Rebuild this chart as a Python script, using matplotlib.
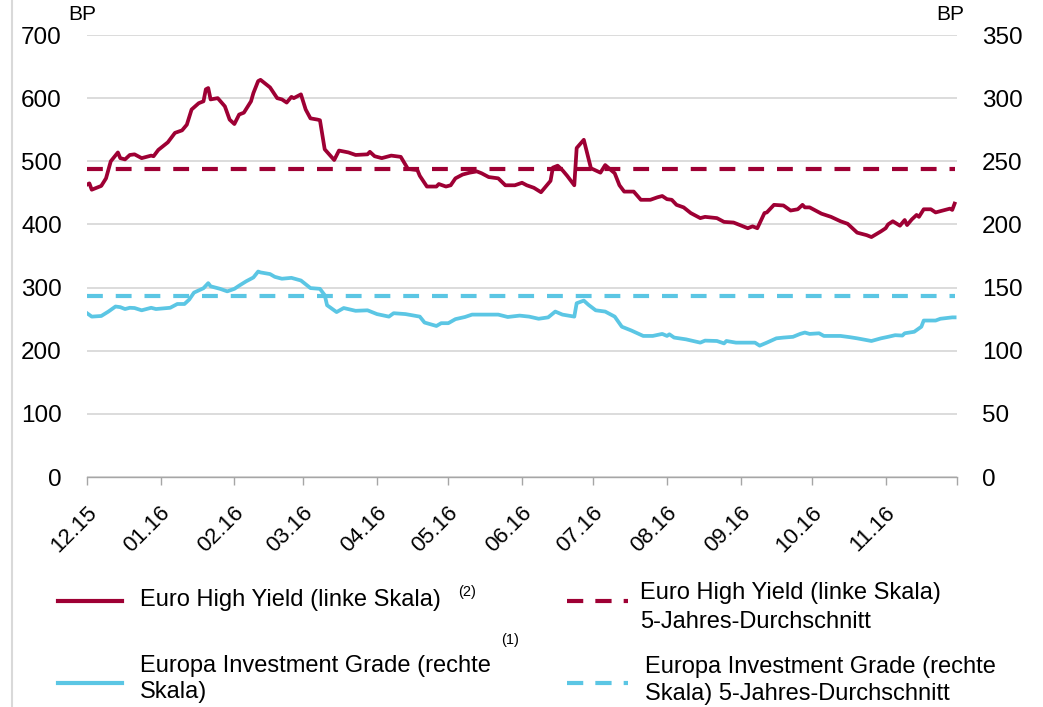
import matplotlib
matplotlib.use('Agg')
import matplotlib.pyplot as plt
import matplotlib.transforms as mtransforms
from matplotlib.lines import Line2D
import pandas as pd

# ---------------- data ----------------
hy_dates = ['2015-12-01', '2015-12-02', '2015-12-03', '2015-12-07', '2015-12-09', '2015-12-11', '2015-12-14',
            '2015-12-15', '2015-12-17', '2015-12-19', '2015-12-21', '2015-12-24', '2015-12-28', '2015-12-29',
            '2015-12-31',
            '2016-01-04', '2016-01-07', '2016-01-10', '2016-01-12', '2016-01-14', '2016-01-17', '2016-01-19',
            '2016-01-20', '2016-01-21', '2016-01-22', '2016-01-25', '2016-01-28', '2016-01-30',
            '2016-02-01', '2016-02-03', '2016-02-05', '2016-02-08', '2016-02-09', '2016-02-11', '2016-02-12',
            '2016-02-16', '2016-02-19', '2016-02-21', '2016-02-23', '2016-02-25', '2016-02-26', '2016-02-29',
            '2016-03-02', '2016-03-04', '2016-03-07', '2016-03-08', '2016-03-10', '2016-03-14', '2016-03-16',
            '2016-03-20', '2016-03-23', '2016-03-28', '2016-03-29', '2016-03-31',
            '2016-04-03', '2016-04-07', '2016-04-11', '2016-04-14', '2016-04-18', '2016-04-19', '2016-04-22',
            '2016-04-26', '2016-04-27', '2016-04-30',
            '2016-05-02', '2016-05-04', '2016-05-07', '2016-05-10', '2016-05-13', '2016-05-15', '2016-05-18',
            '2016-05-22', '2016-05-25', '2016-05-29',
            '2016-06-01', '2016-06-03', '2016-06-06', '2016-06-09', '2016-06-13', '2016-06-14', '2016-06-16',
            '2016-06-18', '2016-06-20', '2016-06-23', '2016-06-24', '2016-06-27', '2016-06-30',
            '2016-07-04', '2016-07-06', '2016-07-10', '2016-07-12', '2016-07-14', '2016-07-18', '2016-07-21',
            '2016-07-25', '2016-07-28', '2016-07-30',
            '2016-08-01', '2016-08-03', '2016-08-05', '2016-08-08', '2016-08-11', '2016-08-15', '2016-08-17',
            '2016-08-22', '2016-08-25', '2016-08-29', '2016-08-31',
            '2016-09-04', '2016-09-06', '2016-09-08', '2016-09-11', '2016-09-12', '2016-09-15', '2016-09-19',
            '2016-09-22', '2016-09-25', '2016-09-27', '2016-09-28', '2016-09-30',
            '2016-10-05', '2016-10-09', '2016-10-13', '2016-10-16', '2016-10-20', '2016-10-24', '2016-10-26',
            '2016-10-30',
            '2016-11-01', '2016-11-02', '2016-11-04', '2016-11-07', '2016-11-09', '2016-11-10', '2016-11-12',
            '2016-11-14', '2016-11-15', '2016-11-17', '2016-11-20', '2016-11-22', '2016-11-25', '2016-11-28',
            '2016-11-29', '2016-11-30']
hy_values = [463, 465, 455, 461, 473, 500, 514, 505, 503, 510, 511, 505, 509, 508, 518,
             530, 545, 549, 558, 582, 592, 595, 614, 616, 598, 600, 587, 566,
             559, 574, 577, 595, 608, 627, 629, 617, 600, 598, 593, 602, 600, 606,
             582, 568, 566, 565, 519, 502, 517, 514, 510, 511, 515, 508,
             505, 509, 507, 488, 486, 477, 460, 460, 464, 460,
             462, 473, 479, 482, 484, 481, 475, 473, 462, 462,
             466, 462, 458, 451, 469, 490, 493, 486, 477, 462, 521, 534, 489,
             482, 494, 481, 462, 452, 452, 439, 439, 443, 445,
             440, 439, 431, 427, 418, 410, 412, 410, 404, 403, 400,
             394, 397, 394, 418, 419, 431, 430, 422, 424, 431, 427, 427,
             417, 412, 405, 401, 387, 383, 380, 389,
             394, 400, 405, 398, 407, 399, 408, 415, 412, 424, 424, 419, 422, 425, 423, 433]

ig_dates = ['2015-12-01', '2015-12-03', '2015-12-07', '2015-12-10', '2015-12-13', '2015-12-15', '2015-12-17',
            '2015-12-19', '2015-12-21', '2015-12-24', '2015-12-28', '2015-12-30',
            '2016-01-05', '2016-01-08', '2016-01-11', '2016-01-13', '2016-01-15', '2016-01-19', '2016-01-21',
            '2016-01-22', '2016-01-26', '2016-01-29',
            '2016-02-01', '2016-02-03', '2016-02-06', '2016-02-09', '2016-02-11', '2016-02-12', '2016-02-16',
            '2016-02-18', '2016-02-21', '2016-02-25', '2016-02-29',
            '2016-03-04', '2016-03-08', '2016-03-10', '2016-03-11', '2016-03-15', '2016-03-18', '2016-03-23',
            '2016-03-28',
            '2016-04-01', '2016-04-06', '2016-04-08', '2016-04-13', '2016-04-19', '2016-04-21', '2016-04-26',
            '2016-04-28',
            '2016-05-01', '2016-05-04', '2016-05-08', '2016-05-11', '2016-05-16', '2016-05-22', '2016-05-26',
            '2016-05-31',
            '2016-06-04', '2016-06-08', '2016-06-12', '2016-06-15', '2016-06-18', '2016-06-23', '2016-06-24',
            '2016-06-27', '2016-06-29',
            '2016-07-02', '2016-07-06', '2016-07-10', '2016-07-13', '2016-07-17', '2016-07-22', '2016-07-26',
            '2016-07-30',
            '2016-08-01', '2016-08-02', '2016-08-04', '2016-08-09', '2016-08-15', '2016-08-17', '2016-08-22',
            '2016-08-25', '2016-08-26', '2016-08-30',
            '2016-09-07', '2016-09-09', '2016-09-12', '2016-09-16', '2016-09-19', '2016-09-23', '2016-09-26',
            '2016-09-28', '2016-09-30',
            '2016-10-04', '2016-10-06', '2016-10-13', '2016-10-17', '2016-10-20', '2016-10-26', '2016-10-30',
            '2016-11-02', '2016-11-05', '2016-11-08', '2016-11-09', '2016-11-13', '2016-11-16', '2016-11-17',
            '2016-11-22', '2016-11-24', '2016-11-29', '2016-11-30']
ig_values = [129.7, 127, 127.5, 131, 135, 134.5, 133, 134, 133.8, 132, 134, 133,
             134, 137, 137, 140.5, 146, 149.5, 153.5, 151, 149, 147,
             149, 151.5, 155, 158, 162.7, 162, 160.7, 158.5, 157, 157.7, 155.6,
             149.6, 149, 144, 136, 130.6, 133.8, 131.6, 132,
             129, 127, 129.7, 129, 127, 122.3, 119.6, 121.8,
             121.8, 125, 126.7, 128.6, 128.6, 128.6, 126.7, 127.8,
             127, 125.3, 126.4, 131, 128.6, 127, 137.6, 139.7, 136.3,
             132, 131, 127, 119, 116, 111.7, 111.7, 113.3,
             111.7, 113, 110.4, 109, 106.4, 108, 107.7, 105.8, 107.7, 106.4,
             106.4, 104, 106.4, 109.8, 110.4, 111, 113.3, 114.4, 113.3,
             113.8, 111.7, 111.7, 110.7, 109.8, 107.7, 109.8,
             111, 112.3, 112, 113.8, 115, 119, 123.9, 123.9, 125.3, 126.4, 126.4]

hy_avg = 487
ig_avg = 143

month_ticks = ['2015-12-01', '2016-01-01', '2016-02-01', '2016-03-01', '2016-04-01', '2016-05-01',
               '2016-06-01', '2016-07-01', '2016-08-01', '2016-09-01', '2016-10-01', '2016-11-01',
               '2016-12-01']
month_labels = ['12.15', '01.16', '02.16', '03.16', '04.16', '05.16', '06.16', '07.16', '08.16',
                '09.16', '10.16', '11.16', '']
left_ticks = [0, 100, 200, 300, 400, 500, 600, 700]
right_ticks = [0, 50, 100, 150, 200, 250, 300, 350]

legend_labels = ['Euro High Yield (linke Skala)',
                 'Euro High Yield (linke Skala)\n5-Jahres-Durchschnitt',
                 'Europa Investment Grade (rechte\nSkala)',
                 'Europa Investment Grade (rechte\nSkala) 5-Jahres-Durchschnitt']

# ---------------- style ----------------
RED = '#9E0034'
BLUE = '#5BC6E4'
GRID = '#D9D9D9'
FONT = ['Liberation Sans', 'DejaVu Sans']
plt.rcParams['font.family'] = FONT

W, H = 1043, 707
fig = plt.figure(figsize=(W / 100, H / 100), dpi=100)
ax = fig.add_axes([87 / W, 1 - 477 / H, (957 - 87) / W, (477 - 35) / H])
ax2 = ax.twinx()

hy_x = pd.to_datetime(hy_dates)
ig_x = pd.to_datetime(ig_dates)
tick_x = pd.to_datetime(month_ticks)

LW = 2.7
DLW = 3.0
dash = (3.8, 3.1)

ax.plot(hy_x, hy_values, color=RED, lw=LW, solid_joinstyle='round', zorder=3)
ax.plot([hy_x[0], hy_x[-1]], [hy_avg, hy_avg], color=RED, lw=DLW, dashes=dash,
        dash_capstyle='butt', zorder=3)
ax2.plot(ig_x, ig_values, color=BLUE, lw=LW, solid_joinstyle='round', zorder=3)
ax2.plot([ig_x[0], ig_x[-1]], [ig_avg, ig_avg], color=BLUE, lw=DLW, dashes=dash,
         dash_capstyle='butt', zorder=3)

ax.set_xlim(tick_x[0], tick_x[-1])
ax.set_ylim(0, 700)
ax2.set_ylim(0, 350)
ax.set_yticks(left_ticks)
ax2.set_yticks(right_ticks)
ax.set_yticklabels([str(v) for v in left_ticks])
ax2.set_yticklabels([str(v) for v in right_ticks])

for a in (ax, ax2):
    for s in ('left', 'right', 'top', 'bottom'):
        a.spines[s].set_visible(False)
ax.spines['bottom'].set_visible(True)
ax.spines['bottom'].set_color('#A6A6A6')
ax.spines['bottom'].set_linewidth(1.0)

ax.yaxis.grid(True, color=GRID, lw=1.3)
ax.set_axisbelow(True)
ax.tick_params(axis='y', length=0, pad=18, labelsize=17.5, colors='black')
ax2.tick_params(axis='y', length=0, pad=18, labelsize=17.5, colors='black')

ax.set_xticks(tick_x)
ax.set_xticklabels(month_labels, rotation=45, ha='right', va='top', rotation_mode='anchor',
                   fontsize=16)
ax.tick_params(axis='x', length=6, width=1.0, color='#A6A6A6', pad=12, direction='out')
offset = mtransforms.ScaledTranslation(-1 / 100, 0, fig.dpi_scale_trans)
for lbl in ax.get_xticklabels():
    lbl.set_transform(lbl.get_transform() + offset)

# unit labels
fig.text(82 / W, 1 - 15 / H, 'BP', ha='center', va='center', fontsize=15)
fig.text(950 / W, 1 - 15 / H, 'BP', ha='center', va='center', fontsize=15)

# page border line at left
fig.add_artist(Line2D([12 / W, 12 / W], [0, 1], transform=fig.transFigure, color=GRID, lw=1.5))

# ---------------- legend (manual) ----------------
def fx(x):
    return x / W

def fy(y):
    return 1 - y / H

LFS = 17
fig.add_artist(Line2D([fx(58), fx(122)], [fy(601), fy(601)], transform=fig.transFigure,
                      color=RED, lw=DLW))
fig.text(fx(140), fy(600), legend_labels[0], ha='left', va='center', fontsize=LFS)
fig.text(fx(458), fy(592), '(2)', ha='left', va='center', fontsize=10.5)

fig.add_artist(Line2D([fx(567), fx(628)], [fy(601), fy(601)], transform=fig.transFigure,
                      color=RED, lw=DLW, dashes=(3.9, 2.9), dash_capstyle='butt'))
l1, l2 = legend_labels[1].split('\n')
fig.text(fx(640), fy(593), l1, ha='left', va='center', fontsize=LFS)
fig.text(fx(640), fy(622), l2, ha='left', va='center', fontsize=LFS)

fig.text(fx(510), fy(640), '(1)', ha='center', va='center', fontsize=10.5)
fig.add_artist(Line2D([fx(58), fx(122)], [fy(683), fy(683)], transform=fig.transFigure,
                      color=BLUE, lw=DLW))
l1, l2 = legend_labels[2].split('\n')
fig.text(fx(140), fy(666), l1, ha='left', va='center', fontsize=LFS)
fig.text(fx(140), fy(692), l2, ha='left', va='center', fontsize=LFS)

fig.add_artist(Line2D([fx(567), fx(628)], [fy(683), fy(683)], transform=fig.transFigure,
                      color=BLUE, lw=DLW, dashes=(3.9, 2.9), dash_capstyle='butt'))
l1, l2 = legend_labels[3].split('\n')
fig.text(fx(645), fy(667), l1, ha='left', va='center', fontsize=LFS)
fig.text(fx(645), fy(694), l2, ha='left', va='center', fontsize=LFS)

fig.savefig('out.png', dpi=100)
